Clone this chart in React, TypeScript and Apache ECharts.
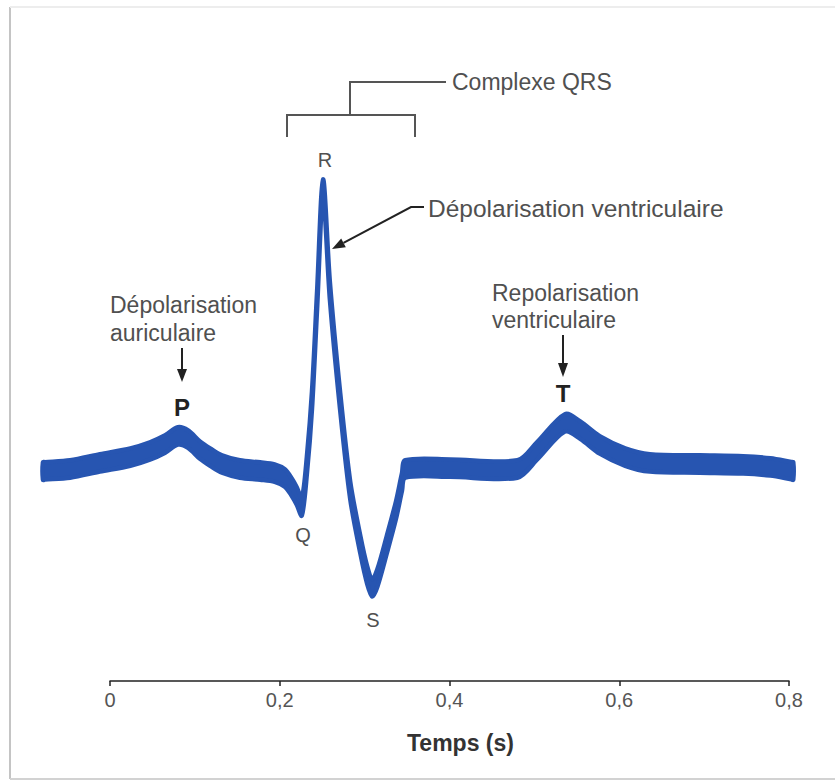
import React, { useEffect, useRef } from "react";
import * as echarts from "echarts";

// ECG trace: time (s) and band-centre amplitude (mV, arbitrary scale)
const timeS = [
  -0.079, -0.047, -0.012, 0.024, 0.047, 0.065, 0.08, 0.092, 0.106, 0.118, 0.132, 0.153, 0.177,
  0.194, 0.206, 0.214, 0.22, 0.226, 0.232, 0.238, 0.244, 0.251, 0.259, 0.271, 0.283, 0.295,
  0.303, 0.309, 0.315, 0.326, 0.337, 0.344, 0.348, 0.401, 0.48, 0.503, 0.536, 0.554, 0.577,
  0.607, 0.636, 0.695, 0.746, 0.778, 0.805,
];
const signalMv = [
  0.0, 0.007, 0.028, 0.048, 0.069, 0.093, 0.121, 0.11, 0.072, 0.048, 0.024, 0.007, 0.0,
  -0.007, -0.024, -0.055, -0.086, -0.124, 0.021, 0.245, 0.59, 0.976, 0.624, 0.245, -0.066, -0.255,
  -0.359, -0.403, -0.369, -0.255, -0.134, -0.038, 0.007, 0.01, 0.007, 0.069, 0.166, 0.141, 0.09,
  0.048, 0.028, 0.024, 0.021, 0.014, 0.0,
];
const bandMv = 0.06;
const tickLabels = ["0", "0,2", "0,4", "0,6", "0,8"];
const tickStep = 0.2;
const axisTitle = "Temps (s)";

const FONT = "'Liberation Sans', Arial, Helvetica, sans-serif";
const BLUE = "#2755b1";
const GREY = "#505050";

function txt(text: string, x: number, y: number, size: number, opts: any = {}) {
  return {
    type: "text",
    x,
    y,
    z: 100,
    style: {
      text,
      fill: opts.fill || GREY,
      fontSize: size,
      fontFamily: FONT,
      fontWeight: opts.bold ? "bold" : "normal",
      textAlign: opts.align || "left",
      textVerticalAlign: "middle",
      align: opts.align || "left",
      verticalAlign: "middle",
    },
  };
}

// pin a polygon corner: add a point 2px along the edge so smoothing keeps the corner square
function toward(a: number[], b: number[], d: number) {
  const dx = b[0] - a[0];
  const dy = b[1] - a[1];
  const len = Math.hypot(dx, dy) || 1;
  return [a[0] + (dx / len) * d, a[1] + (dy / len) * d];
}

export default function App() {
  const ref = useRef<HTMLDivElement>(null);
  useEffect(() => {
    document.body.style.margin = "0";
    const chart = echarts.init(ref.current!, null, { renderer: "svg" });
    const traceData = timeS.map((t, i) => [t, signalMv[i]]);

    const graphic: any[] = [
      // picture frame
      { type: "line", shape: { x1: 10, y1: 7, x2: 10, y2: 779 }, style: { stroke: "#c4c4c4", lineWidth: 2 } },
      { type: "line", shape: { x1: 10, y1: 7, x2: 835, y2: 7 }, style: { stroke: "#ededed", lineWidth: 2 } },
      { type: "line", shape: { x1: 10, y1: 779, x2: 835, y2: 779 }, style: { stroke: "#d2d2d2", lineWidth: 2 } },
      // QRS bracket
      {
        type: "polyline",
        shape: { points: [[287, 137], [287, 115], [415, 115], [415, 137]] },
        style: { stroke: "#555", lineWidth: 2, fill: null },
      },
      {
        type: "polyline",
        shape: { points: [[350, 115], [350, 82], [446, 82]] },
        style: { stroke: "#555", lineWidth: 2, fill: null },
      },
      txt("Complexe QRS", 452, 82, 23),
      txt("R", 325, 160, 20, { align: "center" }),
      // ventricular depolarisation leader
      {
        type: "polyline",
        shape: { points: [[424, 207], [411, 207], [343.5, 242.9]] },
        style: { stroke: "#222", lineWidth: 2, fill: null },
      },
      {
        type: "polygon",
        shape: { points: [[332, 249], [345.8, 247.3], [341.2, 238.5]] },
        style: { fill: "#222" },
      },
      txt("Dépolarisation ventriculaire", 428, 208, 24.5),
      // atrial depolarisation
      txt("Dépolarisation", 110, 305, 23),
      txt("auriculaire", 110, 333, 23),
      { type: "line", shape: { x1: 182, y1: 348, x2: 182, y2: 372 }, style: { stroke: "#222", lineWidth: 2 } },
      { type: "polygon", shape: { points: [[177, 369], [187, 369], [182, 382]] }, style: { fill: "#222" } },
      txt("P", 182, 407, 24, { bold: true, align: "center", fill: "#222" }),
      // ventricular repolarisation
      txt("Repolarisation", 492, 293, 23),
      txt("ventriculaire", 492, 320, 23),
      { type: "line", shape: { x1: 563, y1: 335, x2: 563, y2: 366 }, style: { stroke: "#222", lineWidth: 2 } },
      { type: "polygon", shape: { points: [[558, 363], [568, 363], [563, 377]] }, style: { fill: "#222" } },
      txt("T", 563, 393, 24, { bold: true, align: "center", fill: "#222" }),
      txt("Q", 303, 535, 20, { align: "center" }),
      txt("S", 373, 620, 20, { align: "center" }),
    ];

    chart.setOption({
      animation: false,
      backgroundColor: "#ffffff",
      grid: [
        { left: 110, right: 46, top: 150, bottom: 101 },
        { left: 42.1, right: 37.5, top: 152, bottom: 166 },
      ],
      xAxis: [
        {
          type: "value",
          gridIndex: 0,
          min: 0,
          max: 0.8,
          interval: tickStep,
          splitLine: { show: false },
          axisLine: { show: true, lineStyle: { color: "#222", width: 1.5 } },
          axisTick: { show: true, length: 5, lineStyle: { color: "#222", width: 1.5 } },
          axisLabel: {
            margin: 9,
            color: "#555",
            fontSize: 20,
            fontFamily: FONT,
            formatter: (v: number) => tickLabels[Math.round(v / tickStep)] ?? "",
          },
          name: axisTitle,
          nameLocation: "middle",
          nameGap: 50,
          nameTextStyle: {
            color: "#333",
            fontSize: 23,
            fontWeight: "bold",
            fontFamily: FONT,
            padding: [0, 0, 0, 22],
          },
        },
        { type: "value", gridIndex: 1, min: -0.08, max: 0.81, show: false },
      ],
      yAxis: [
        { type: "value", gridIndex: 0, min: 0, max: 1, show: false },
        { type: "value", gridIndex: 1, min: -0.5, max: 1.1, show: false },
      ],
      series: [
        {
          type: "custom",
          xAxisIndex: 1,
          yAxisIndex: 1,
          data: traceData,
          clip: false,
          renderItem: (params: any, api: any) => {
            if (params.dataIndex !== 0) return { type: "group", children: [] };
            const up = traceData.map((d) => api.coord([d[0], d[1] + bandMv / 2]));
            const lo = traceData.map((d) => api.coord([d[0], d[1] - bandMv / 2]));
            const n = up.length;
            const upper = [up[0], toward(up[0], up[1], 2), ...up.slice(1, n - 1), toward(up[n - 1], up[n - 2], 2), up[n - 1]];
            const lower = [lo[0], toward(lo[0], lo[1], 2), ...lo.slice(1, n - 1), toward(lo[n - 1], lo[n - 2], 2), lo[n - 1]].reverse();
            return {
              type: "polygon",
              shape: { points: upper.concat(lower), smooth: 0.3 },
              style: { fill: BLUE, stroke: BLUE, lineWidth: 4.5, lineJoin: "miter" },
            };
          },
          z: 3,
        },
      ],
      graphic,
    });
    return () => chart.dispose();
  }, []);
  return <div ref={ref} style={{ width: 835, height: 782 }} />;
}
